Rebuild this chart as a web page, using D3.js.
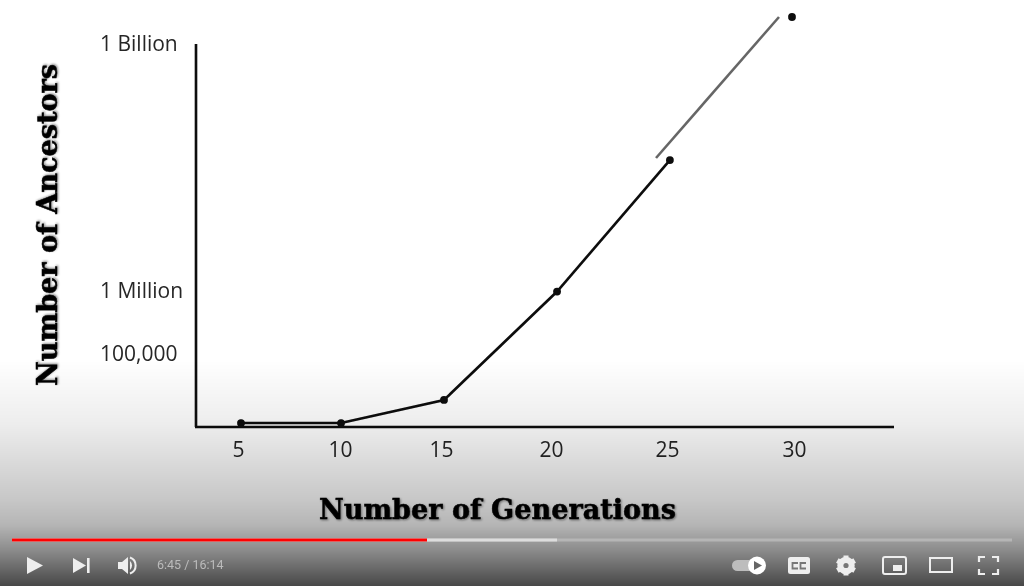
<!DOCTYPE html>
<html><head><meta charset="utf-8">
<script src="https://cdn.jsdelivr.net/npm/d3@7"></script>
<style>
html,body{margin:0;padding:0;background:#fff;overflow:hidden}
svg{display:block}
.tick text{font-family:"Open Sans",sans-serif;font-size:21px;fill:#262626}
.title{font-family:"DejaVu Serif",serif;font-weight:700;fill:#050505;stroke:#050505;stroke-width:0.5px}
</style></head><body>
<svg id="c" width="1024" height="586"></svg>
<script>
// Curve values
const plottedGenerations = [5, 9.54, 14.21, 19.34, 24.46];
const plottedAncestors = [11300, 11300, 23200, 945000, 37800000];
const lastPointGeneration = [30];
const lastPointAncestors = [2070000000];
const projectionGenerations = [23.83, 29.41];
const projectionAncestors = [40100000, 2070000000];
// Axes
const xTickPositions = [4.86, 9.49, 14.07, 19.07, 24.33, 30.09];
const xTickLabels = ["5","10","15","20","25","30"];
const yTickValues = [1e9, 1e6, 1e5];
const yTickLabels = ["1 Billion","1 Million","100,000"];
const xAxisTitle = "Number of Generations";
const yAxisTitle = "Number of Ancestors";
const playerTime = "6:45 / 16:14";

const svg = d3.select("#c");
const defs = svg.append("defs");
const grad = defs.append("linearGradient").attr("id","fade").attr("x1",0).attr("x2",0).attr("y1",0).attr("y2",1);
[[0,"#000",0],[0.28,"#000",0.07],[0.62,"#000",0.22],[0.73,"#000",0.29],[0.84,"#000",0.45],[1,"#000",0.72]]
  .forEach(s=>grad.append("stop").attr("offset",s[0]).attr("stop-color",s[1]).attr("stop-opacity",s[2]));
const soft = defs.append("filter").attr("id","soft").attr("x","-5%").attr("y","-5%").attr("width","110%").attr("height","110%");
soft.append("feGaussianBlur").attr("stdDeviation",0.5);
const shadow = defs.append("filter").attr("id","shadow").attr("x","-5%").attr("y","-10%").attr("width","110%").attr("height","120%");
shadow.append("feDropShadow").attr("dx",1).attr("dy",1).attr("stdDeviation",1).attr("flood-color","#000").attr("flood-opacity",0.45);

const x = d3.scaleLinear().domain([5,30]).range([241,792]);
const y = d3.scaleLog().domain([1e4,1e5,1e6,1e9]).range([427,353,290,43]);
const baseline = y(1e4);

const chart = svg.append("g").attr("filter","url(#soft)");

// X axis
const xAxis = chart.append("g").attr("transform",`translate(0,${baseline})`)
  .call(d3.axisBottom(x).tickValues(xTickPositions).tickSize(0).tickPadding(15)
    .tickFormat((d,i)=>xTickLabels[i]));
xAxis.select(".domain").remove();
chart.append("line").attr("x1",195).attr("x2",894).attr("y1",baseline).attr("y2",baseline)
  .attr("stroke","#0a0a0a").attr("stroke-width",2.6);

// Y axis
const yAxis = chart.append("g").attr("transform","translate(196,1)")
  .call(d3.axisLeft(y).tickValues(yTickValues).tickSize(0).tickFormat((d,i)=>yTickLabels[i]));
yAxis.select(".domain").remove();
yAxis.selectAll("text").attr("text-anchor","start").attr("x",-96);
chart.append("line").attr("x1",196).attr("x2",196).attr("y1",44).attr("y2",baseline)
  .attr("stroke","#0a0a0a").attr("stroke-width",2.6);

// Curve
const pts = plottedGenerations.map((g,i)=>[g,plottedAncestors[i]]);
const line = d3.line().x(d=>x(d[0])).y(d=>y(d[1]));
chart.append("path").datum(pts).attr("d",line).attr("fill","none").attr("stroke","#0a0a0a").attr("stroke-width",2.6);
chart.selectAll("circle.p").data(pts).join("circle").attr("class","p")
  .attr("cx",d=>x(d[0])).attr("cy",d=>y(d[1])).attr("r",3.9).attr("fill","#0a0a0a");
chart.append("circle").attr("cx",x(lastPointGeneration[0])).attr("cy",y(lastPointAncestors[0])).attr("r",3.9).attr("fill","#0a0a0a");
chart.append("path").datum(projectionGenerations.map((g,i)=>[g,projectionAncestors[i]]))
  .attr("d",line).attr("fill","none").attr("stroke","#666").attr("stroke-width",2.6);

// Fade of the video player
svg.append("rect").attr("x",0).attr("y",360).attr("width",1024).attr("height",226).attr("fill","url(#fade)");

// Titles
svg.append("text").attr("class","title").attr("text-anchor","middle").attr("x",497.5).attr("y",519)
  .attr("font-size",27).attr("textLength",357).attr("lengthAdjust","spacingAndGlyphs")
  .attr("filter","url(#shadow)").text(xAxisTitle);
svg.append("text").attr("class","title").attr("text-anchor","middle")
  .attr("transform","translate(57,225) rotate(-90)")
  .attr("font-size",27).attr("textLength",322).attr("lengthAdjust","spacingAndGlyphs")
  .attr("filter","url(#shadow)").text(yAxisTitle);

// Player progress bar
const bar = svg.append("g");
bar.append("rect").attr("x",12).attr("y",538.5).attr("width",1000).attr("height",3).attr("fill","#fff").attr("opacity",0.25);
bar.append("rect").attr("x",12).attr("y",538.5).attr("width",545).attr("height",3).attr("fill","#ddd");
bar.append("rect").attr("x",12).attr("y",538.5).attr("width",415).attr("height",3).attr("fill","#f00");

// Player controls
const ctl = svg.append("g").attr("fill","#eee").attr("filter","url(#soft)");
ctl.append("path").attr("d","M27 557 L43 565.5 L27 574 Z");
ctl.append("path").attr("d","M73 558 L86 565.5 L73 573 Z");
ctl.append("rect").attr("x",87).attr("y",558).attr("width",2.6).attr("height",15);
ctl.append("path").attr("d","M118 562 L122 562 L128 557 L128 574 L122 569 L118 569 Z");
ctl.append("path").attr("d","M130 561 A6 6 0 0 1 130 570 Z");
ctl.append("path").attr("d","M130 557.5 A8.5 8.5 0 0 1 130 573.5").attr("fill","none").attr("stroke","#eee").attr("stroke-width",2);
svg.append("text").attr("x",157).attr("y",569).attr("font-family","Roboto,sans-serif").attr("font-size",12.5).attr("fill","#bbb").text(playerTime);

// Autoplay toggle
ctl.append("rect").attr("x",732).attr("y",560).attr("width",24).attr("height",11).attr("rx",5.5).attr("fill","#bdbdbd");
ctl.append("circle").attr("cx",757).attr("cy",565.5).attr("r",9).attr("fill","#fff");
ctl.append("path").attr("d","M754 561 L762 565.5 L754 570 Z").attr("fill","#666");
// CC
ctl.append("rect").attr("x",788).attr("y",557).attr("width",22).attr("height",17).attr("rx",2.5);
ctl.append("path").attr("d","M798 563 H792.5 V568.5 H798 M806 563 H800.5 V568.5 H806").attr("fill","none").attr("stroke","#777").attr("stroke-width",1.8);
// Gear
ctl.append("circle").attr("cx",846).attr("cy",565.5).attr("r",6.5).attr("fill","none").attr("stroke","#eee").attr("stroke-width",4.5);
ctl.selectAll("rect.g").data([0,60,120]).join("rect").attr("class","g").attr("x",843.5).attr("y",555.5).attr("width",5).attr("height",20)
  .attr("transform",d=>`rotate(${d} 846 565.5)`);
ctl.append("circle").attr("cx",846).attr("cy",565.5).attr("r",2.6).attr("fill","#777");
// Miniplayer
ctl.append("rect").attr("x",883).attr("y",557).attr("width",23).attr("height",17).attr("rx",2).attr("fill","none").attr("stroke","#eee").attr("stroke-width",2);
ctl.append("rect").attr("x",893).attr("y",565).attr("width",9).attr("height",6);
// Theatre mode
ctl.append("rect").attr("x",930).attr("y",558).attr("width",22).attr("height",14).attr("fill","none").attr("stroke","#eee").attr("stroke-width",2);
// Fullscreen
ctl.append("path").attr("d","M979 562 V557 H985 M992 557 H998 V562 M998 569 V574 H992 M985 574 H979 V569").attr("fill","none").attr("stroke","#eee").attr("stroke-width",2.2);
</script></body></html>
